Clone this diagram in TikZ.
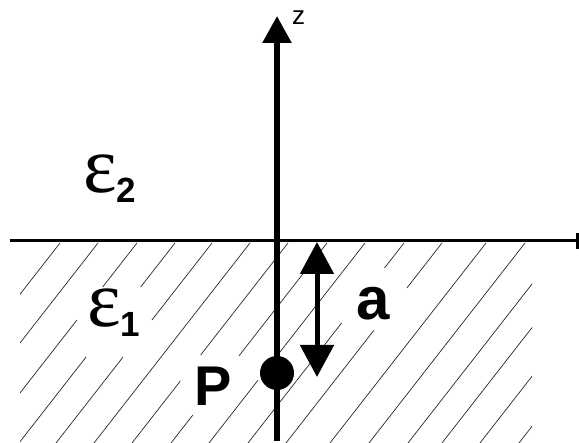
\documentclass[tikz,border=0pt]{standalone}
\usepackage{fontspec}
\setmainfont{Liberation Sans}
\newfontfamily\serifeps{Liberation Serif}
\usetikzlibrary{arrows.meta}
\newcommand{\epslab}[1]{{\serifeps\fontsize{80}{80}\selectfont ε}\raisebox{-10pt}{\bfseries\fontsize{35}{35}\selectfont #1}}
\begin{document}
\begin{tikzpicture}[x=1pt,y=-1pt,
  hatch/.style={line width=0.7pt, black!85},
  axis/.style={line width=3pt},
  pole/.style={line width=5.5pt},
  lab/.style={inner sep=0pt, anchor=base west}]
\useasboundingbox (0,0) rectangle (579,443);
% hatching
\begin{scope}
\clip (20,243) rectangle (532,443);
\foreach \c/\ya/\yb in {60/243/300, 98/243/350,
  137/243/287, 137/320/400,
  175/243/287, 175/357/445,
  212/243/320, 212/357/445,
  250/243/445,
  288/243/355, 288/381/445,
  327/243/356, 327/415/445,
  365/243/356, 365/380/445,
  404/243/268, 404/323/445,
  442/243/288, 442/330/445,
  486/243/445, 525/243/445, 564/243/445,
  598/243/445, 636/243/445, 675/243/445}
  \draw[hatch] ({\c-0.78*(\ya-243)},\ya) -- ({\c-0.78*(\yb-243)},\yb);
\end{scope}
% horizontal interface
\coordinate (hl) at (10,241);
\coordinate (hr) at (578,241);
\draw[axis] (hl) -- (hr);
\fill (576,233) rectangle (579,249);
% z axis
\coordinate (zbot) at (277,441);
\coordinate (ztop) at (277,16);
\draw[pole,-{Triangle[length=27pt,width=28pt]}] (zbot) -- (ztop);
\node[lab, font=\fontsize{26}{26}\selectfont] (zl) at (292,25) {z};
% point P
\node[circle, fill, inner sep=0pt, minimum size=34pt] (P0) at (277,373) {};
% distance a
\coordinate (at) at (317,242);
\coordinate (ab) at (317,377);
\draw[line width=5pt, {Triangle[length=32pt,width=33pt]}-{Triangle[length=32pt,width=33pt]}] (at) -- (ab);
% labels
\node[lab, font=\bfseries\fontsize{56}{56}\selectfont] (Pl) at (194,406) {P};
\node[lab, font=\bfseries\fontsize{60}{60}\selectfont] (al) at (356,320) {a};
\node[lab] (e2) at (83,193) {\epslab{2}};
\node[lab] (e1) at (87,327) {\epslab{1}};
\end{tikzpicture}
\end{document}
